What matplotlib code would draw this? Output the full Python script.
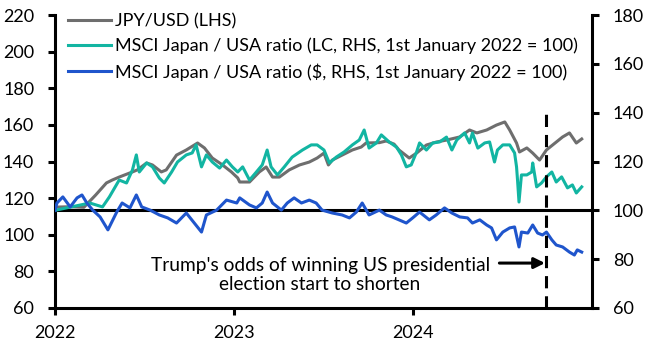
import matplotlib
matplotlib.use("Agg")
import matplotlib.pyplot as plt
import matplotlib.dates as mdates
import pandas as pd

plt.rcParams["font.family"] = ["Lato", "DejaVu Sans"]
plt.rcParams["font.size"] = 13

# JPY/USD (LHS)
jpy_dates = [
    "2022-01-01", "2022-01-04", "2022-02-01", "2022-03-01", "2022-03-25", "2022-04-16",
    "2022-04-28", "2022-05-12", "2022-06-08", "2022-06-18", "2022-07-07", "2022-07-19",
    "2022-08-06", "2022-08-16", "2022-09-06", "2022-09-26", "2022-10-19", "2022-11-02",
    "2022-11-18", "2022-12-09", "2022-12-27", "2023-01-09", "2023-01-13", "2023-02-02",
    "2023-02-22", "2023-03-08", "2023-03-21", "2023-04-04", "2023-04-24", "2023-05-15",
    "2023-06-04", "2023-06-20", "2023-07-04", "2023-07-13", "2023-07-21", "2023-08-10",
    "2023-08-31", "2023-09-18", "2023-09-28", "2023-10-25", "2023-11-08", "2023-11-24",
    "2023-12-04", "2023-12-25", "2024-01-09", "2024-01-29", "2024-02-18", "2024-03-10",
    "2024-04-06", "2024-04-26", "2024-05-11", "2024-05-31", "2024-06-20", "2024-07-07",
    "2024-07-17", "2024-07-31", "2024-08-06", "2024-08-21", "2024-09-02", "2024-09-16",
    "2024-09-30", "2024-10-20", "2024-11-02", "2024-11-16", "2024-11-30", "2024-12-11",
]
jpy_values = [
    115.1, 115.1, 115.3, 115.0, 121.7, 128.3,
    129.9, 131.5, 134.3, 135.4, 139.2, 138.1,
    134.3, 135.4, 143.5, 146.3, 150.1, 147.4,
    141.9, 138.1, 134.3, 131.0, 128.8, 128.8,
    134.3, 137.0, 131.5, 131.5, 135.4, 138.1,
    139.7, 141.9, 144.6, 138.1, 140.8, 143.5,
    146.3, 147.9, 150.1, 150.3, 151.2, 149.5,
    146.3, 141.9, 144.6, 149.0, 150.6, 151.7,
    153.4, 157.2, 155.6, 157.2, 159.9, 161.6,
    157.2, 150.1, 145.2, 147.4, 144.6, 140.8,
    146.3, 150.6, 153.4, 155.6, 150.1, 152.3,
]

# MSCI Japan / USA ratio, local currency (RHS)
lc_dates = [
    "2022-01-01", "2022-03-13", "2022-04-08", "2022-04-22", "2022-05-12", "2022-05-27",
    "2022-06-08", "2022-06-16", "2022-06-22", "2022-07-07", "2022-07-19", "2022-08-02",
    "2022-08-12", "2022-08-27", "2022-09-08", "2022-09-26", "2022-10-08", "2022-10-16",
    "2022-10-27", "2022-11-06", "2022-11-18", "2022-12-03", "2022-12-17", "2022-12-29",
    "2023-01-09", "2023-01-19", "2023-02-02", "2023-02-16", "2023-02-28", "2023-03-10",
    "2023-03-18", "2023-03-31", "2023-04-14", "2023-04-30", "2023-05-21", "2023-06-08",
    "2023-06-20", "2023-07-04", "2023-07-15", "2023-07-29", "2023-08-14", "2023-08-31",
    "2023-09-14", "2023-09-24", "2023-10-04", "2023-10-19", "2023-10-29", "2023-11-14",
    "2023-11-29", "2023-12-09", "2023-12-19", "2023-12-29", "2024-01-09", "2024-01-15",
    "2024-01-29", "2024-02-11", "2024-02-25", "2024-03-10", "2024-03-21", "2024-03-31",
    "2024-04-16", "2024-04-26", "2024-05-02", "2024-05-13", "2024-05-27", "2024-06-06",
    "2024-06-16", "2024-06-22", "2024-07-03", "2024-07-17", "2024-07-27", "2024-07-31",
    "2024-08-02", "2024-08-05", "2024-08-10", "2024-08-21", "2024-08-31", "2024-09-02",
    "2024-09-10", "2024-09-20", "2024-09-30", "2024-10-11", "2024-10-20", "2024-10-31",
    "2024-11-12", "2024-11-22", "2024-11-30", "2024-12-11",
]
lc_values = [
    100.0, 103.0, 101.4, 105.5, 112.4, 111.2,
    116.5, 122.7, 115.7, 119.4, 117.8, 113.2,
    111.2, 115.7, 119.8, 122.7, 123.5, 126.8,
    117.8, 122.7, 119.8, 117.3, 120.6, 117.8,
    115.7, 117.8, 112.4, 115.7, 118.6, 124.7,
    117.8, 114.5, 117.8, 121.8, 124.7, 126.8,
    126.8, 124.7, 119.4, 121.8, 123.9, 126.8,
    128.8, 132.9, 125.5, 127.6, 130.9, 128.0,
    125.9, 122.7, 117.8, 118.6, 123.9, 127.6,
    124.7, 127.6, 128.0, 130.0, 124.7, 128.8,
    131.7, 127.6, 131.7, 125.5, 127.6, 128.0,
    119.8, 124.7, 126.8, 126.8, 123.5, 117.8,
    112.4, 103.4, 114.5, 114.5, 115.7, 119.4,
    109.6, 111.2, 113.7, 115.7, 111.6, 113.7,
    109.2, 110.4, 107.1, 109.6,
]

# MSCI Japan / USA ratio, US dollars (RHS)
usd_dates = [
    "2022-01-01", "2022-01-05", "2022-01-17", "2022-02-01", "2022-02-15", "2022-02-25",
    "2022-03-07", "2022-03-19", "2022-04-03", "2022-04-19", "2022-05-07", "2022-05-18",
    "2022-06-03", "2022-06-16", "2022-06-27", "2022-07-14", "2022-08-02", "2022-08-19",
    "2022-09-06", "2022-09-26", "2022-10-27", "2022-11-06", "2022-11-27", "2022-12-17",
    "2023-01-07", "2023-01-13", "2023-02-02", "2023-02-16", "2023-02-28", "2023-03-10",
    "2023-03-21", "2023-04-08", "2023-04-20", "2023-05-04", "2023-05-19", "2023-06-04",
    "2023-06-18", "2023-06-30", "2023-07-21", "2023-08-10", "2023-08-25", "2023-09-08",
    "2023-09-20", "2023-10-04", "2023-10-25", "2023-11-08", "2023-11-20", "2023-12-04",
    "2023-12-19", "2024-01-01", "2024-01-15", "2024-02-04", "2024-02-18", "2024-03-06",
    "2024-03-21", "2024-04-06", "2024-04-22", "2024-05-02", "2024-05-17", "2024-05-31",
    "2024-06-10", "2024-06-20", "2024-07-03", "2024-07-17", "2024-07-27", "2024-08-05",
    "2024-08-10", "2024-08-23", "2024-09-02", "2024-09-12", "2024-09-22", "2024-09-30",
    "2024-10-11", "2024-10-20", "2024-11-02", "2024-11-16", "2024-11-26", "2024-12-02",
    "2024-12-11",
]
usd_values = [
    100.0, 103.0, 105.5, 101.4, 105.1, 106.3,
    103.0, 100.1, 97.3, 92.0, 99.3, 103.0,
    101.0, 106.3, 101.4, 100.1, 98.1, 96.9,
    94.8, 98.9, 91.1, 98.1, 100.1, 104.2,
    103.0, 105.1, 102.2, 101.0, 103.0, 107.5,
    103.0, 100.1, 103.0, 105.1, 103.0, 104.2,
    103.0, 100.1, 98.9, 98.1, 96.9, 99.3,
    103.0, 98.1, 100.1, 98.1, 97.3, 96.1,
    94.8, 96.9, 99.3, 96.1, 98.1, 101.0,
    98.9, 97.3, 96.9, 94.8, 96.1, 94.0,
    92.8, 87.9, 91.1, 92.8, 93.2, 85.0,
    91.1, 90.7, 94.0, 90.7, 89.9, 91.1,
    87.9, 85.8, 85.0, 82.9, 81.7, 83.8,
    82.9,
]

year_ticks = ["2022-01-01", "2023-01-01", "2024-01-01"]
election_date = "2024-09-30"

grey = "#6e6e6e"
teal = "#12b5a2"
blue = "#1f55cc"
lw = 2.2

fig = plt.figure(figsize=(6.52, 3.54), dpi=100)
ax = fig.add_axes([55 / 652, 1 - 308 / 354, (592 - 55) / 652, (308 - 15) / 354])
ax2 = ax.twinx()

h1, = ax.plot(pd.to_datetime(jpy_dates), jpy_values, color=grey, lw=lw,
              label="JPY/USD (LHS)")
h2, = ax2.plot(pd.to_datetime(lc_dates), lc_values, color=teal, lw=lw,
               label="MSCI Japan / USA ratio (LC, RHS, 1st January 2022 = 100)")
h3, = ax2.plot(pd.to_datetime(usd_dates), usd_values, color=blue, lw=lw,
               label="MSCI Japan / USA ratio ($, RHS, 1st January 2022 = 100)")

ax2.axhline(100, color="black", lw=lw, zorder=1)
ax2.axvline(pd.Timestamp(election_date), ymax=0.686, color="black", lw=lw,
            linestyle=(0, (4, 2.6)))

ax.set_ylim(60, 220)
ax.set_yticks(range(60, 221, 20))
ax2.set_ylim(60, 180)
ax2.set_yticks(range(60, 181, 20))
ax.set_xlim(pd.Timestamp("2022-01-01"), pd.Timestamp("2025-01-01"))
ax.set_xticks(pd.to_datetime(year_ticks))
ax.xaxis.set_major_formatter(mdates.DateFormatter("%Y"))

for a in (ax, ax2):
    for s in a.spines.values():
        s.set_linewidth(lw)
    a.spines["top"].set_visible(False)
    a.tick_params(width=lw, length=5, labelsize=13, colors="black")
ax.tick_params(axis="y", pad=10)
ax2.tick_params(axis="y", pad=10)
ax.tick_params(axis="x", pad=7)
ax2.spines["left"].set_visible(False)
ax2.spines["bottom"].set_visible(False)
ax.spines["right"].set_visible(False)

ax2.annotate("", xy=(pd.Timestamp("2024-09-27"), 78.4),
             xytext=(pd.Timestamp("2024-06-26"), 78.4),
             arrowprops=dict(arrowstyle="-|>", color="black", lw=lw,
                             mutation_scale=16, shrinkA=0, shrinkB=0))
ax2.text(pd.Timestamp("2023-06-26"), 73.5,
         "Trump's odds of winning US presidential\nelection start to shorten",
         ha="center", va="center", fontsize=13.8, linespacing=1.2)

leg = ax2.legend(handles=[h1, h2, h3], loc="upper left",
                 bbox_to_anchor=(0.0, 1.05), frameon=False,
                 handlelength=2.4, handletextpad=0.25, labelspacing=0.48,
                 borderaxespad=0.3, fontsize=13.0)

fig.savefig("out.png", dpi=100)
